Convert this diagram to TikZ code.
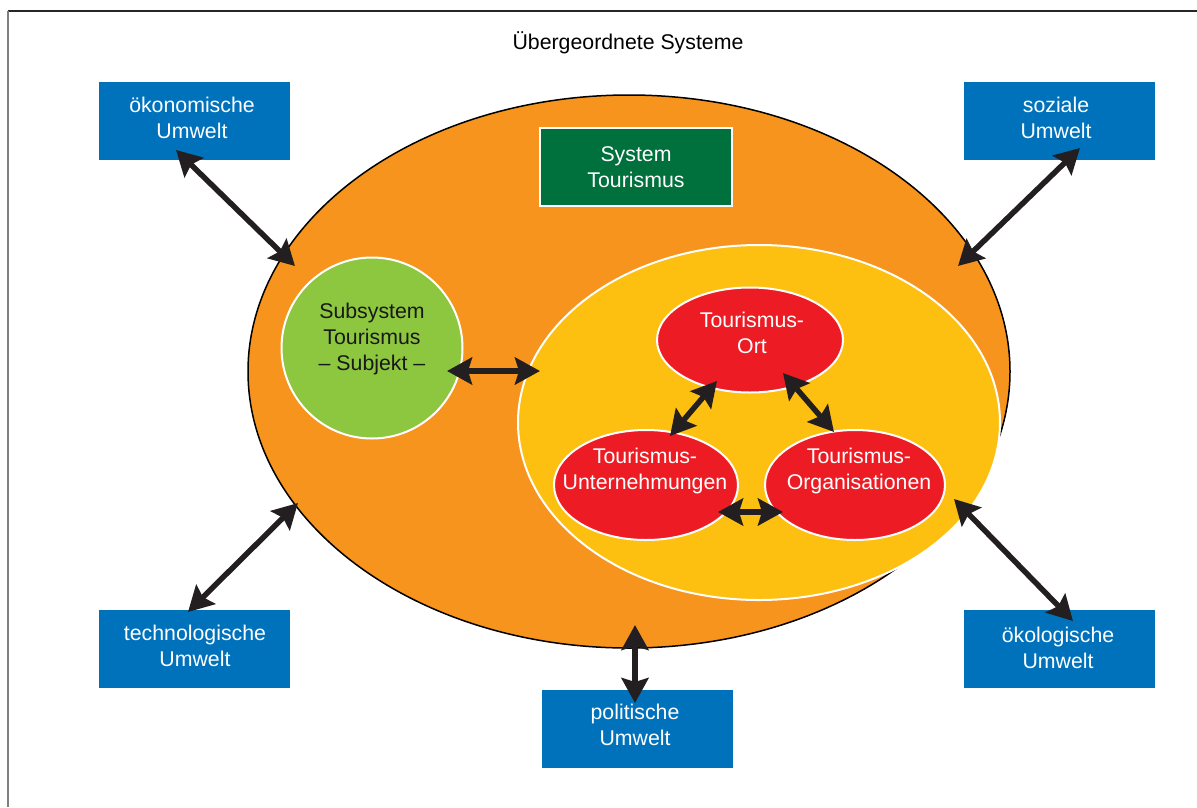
\documentclass[tikz,border=0pt]{standalone}
\usepackage{fontspec}
\setmainfont{Liberation Sans}
\usetikzlibrary{shapes.geometric,arrows.meta}
\definecolor{ublue}{HTML}{0072BC}
\definecolor{uorange}{HTML}{F7941D}
\definecolor{uyellow}{HTML}{FDC010}
\definecolor{ured}{HTML}{ED1C24}
\definecolor{ugreen}{HTML}{8DC63F}
\definecolor{udkgreen}{HTML}{00703C}
\definecolor{uarrow}{HTML}{231F20}
\begin{document}
\begin{tikzpicture}[x=1pt,y=-1pt,
  txt/.style={font=\fontsize{21.3}{26}\selectfont, align=center, inner sep=0pt},
  envbox/.style={fill=ublue, minimum width=191pt, minimum height=78pt, inner sep=0pt},
  envtxt/.style={txt, text=white},
  redell/.style={ellipse, fill=ured, draw=white, line width=2pt, inner sep=0pt},
  dbl/.style={{Stealth[length=25pt,width=27pt,inset=4pt]}-{Stealth[length=25pt,width=27pt,inset=4pt]}, line width=5.5pt, draw=uarrow, fill=uarrow}]
\useasboundingbox (0,0) rectangle (1197,807);
% frame
\draw[black!85, line width=1.5pt] (8,11) -- (1197,11);
\draw[black!50, line width=2pt] (8,11) -- (8,807);
\node[txt] (title) at (628,43) {Übergeordnete Systeme};
% main system
\node[ellipse, draw=black, line width=1.5pt, fill=uorange, minimum width=762pt, minimum height=553pt, inner sep=0pt] (sys) at (629,371.5) {};
\node[txt, fill=udkgreen, draw=white, line width=2pt, text=white, minimum width=192pt, minimum height=78pt] (systxt) at (636,167) {System\\Tourismus};
\node[circle, draw=white, line width=2pt, fill=ugreen, minimum size=181pt, inner sep=0pt] (sub) at (372,348) {};
\node[txt, text=black!90] (subtxt) at (372,339) {Subsystem\\Tourismus\\– Subjekt –};
\node[ellipse, draw=white, line width=2pt, fill=uyellow, minimum width=482pt, minimum height=355pt, inner sep=0pt] (inner) at (759,422.5) {};
% red ellipses
\node[redell, minimum width=186pt, minimum height=105pt] (ort) at (750,340) {};
\node[txt, text=white] (orttxt) at (752,333) {Tourismus-\\Ort};
\node[redell, minimum width=184pt, minimum height=110pt] (unt) at (646,485) {};
\node[txt, text=white] (unttxt) at (645,471) {Tourismus-\\Unternehmungen};
\node[redell, minimum width=180pt, minimum height=110pt] (org) at (855,485) {};
\node[txt, text=white] (orgtxt) at (859,471) {Tourismus-\\Organisationen};
% environment boxes
\node[envbox] (oek) at (194.5,121) {};
\node[envtxt] (oektxt) at (192,118) {ökonomische\\Umwelt};
\node[envbox] (soz) at (1059,121) {};
\node[envtxt] (soztxt) at (1056,118) {soziale\\Umwelt};
\node[envbox] (tech) at (194.5,649) {};
\node[envtxt] (techtxt) at (195,646) {technologische\\Umwelt};
\node[envbox] (oeko) at (1059,649) {};
\node[envtxt] (oekotxt) at (1058,648) {ökologische\\Umwelt};
\node[envbox] (pol) at (637.5,729) {};
\node[envtxt] (poltxt) at (635,725) {politische\\Umwelt};
% arrow endpoints
\coordinate (oekA) at (176,150); \coordinate (oekB) at (295,266);
\coordinate (sozA) at (1080,148); \coordinate (sozB) at (958,266);
\coordinate (techA) at (188,612); \coordinate (techB) at (298,503);
\coordinate (oekoA) at (1073,621); \coordinate (oekoB) at (954,499);
\coordinate (polA) at (635,703); \coordinate (polB) at (635,625);
\coordinate (subA) at (447,371); \coordinate (subB) at (540,371);
\coordinate (ouA) at (717,381); \coordinate (ouB) at (670,436);
\coordinate (ooA) at (783,373); \coordinate (ooB) at (834,432);
\coordinate (uoA) at (718,512); \coordinate (uoB) at (783,512);
\draw[dbl] (oekA) -- (oekB);
\draw[dbl] (sozA) -- (sozB);
\draw[dbl] (techA) -- (techB);
\draw[dbl] (oekoA) -- (oekoB);
\draw[dbl] (polA) -- (polB);
\draw[dbl] (subA) -- (subB);
\draw[dbl] (ouA) -- (ouB);
\draw[dbl] (ooA) -- (ooB);
\draw[dbl] (uoA) -- (uoB);
\end{tikzpicture}
\end{document}
